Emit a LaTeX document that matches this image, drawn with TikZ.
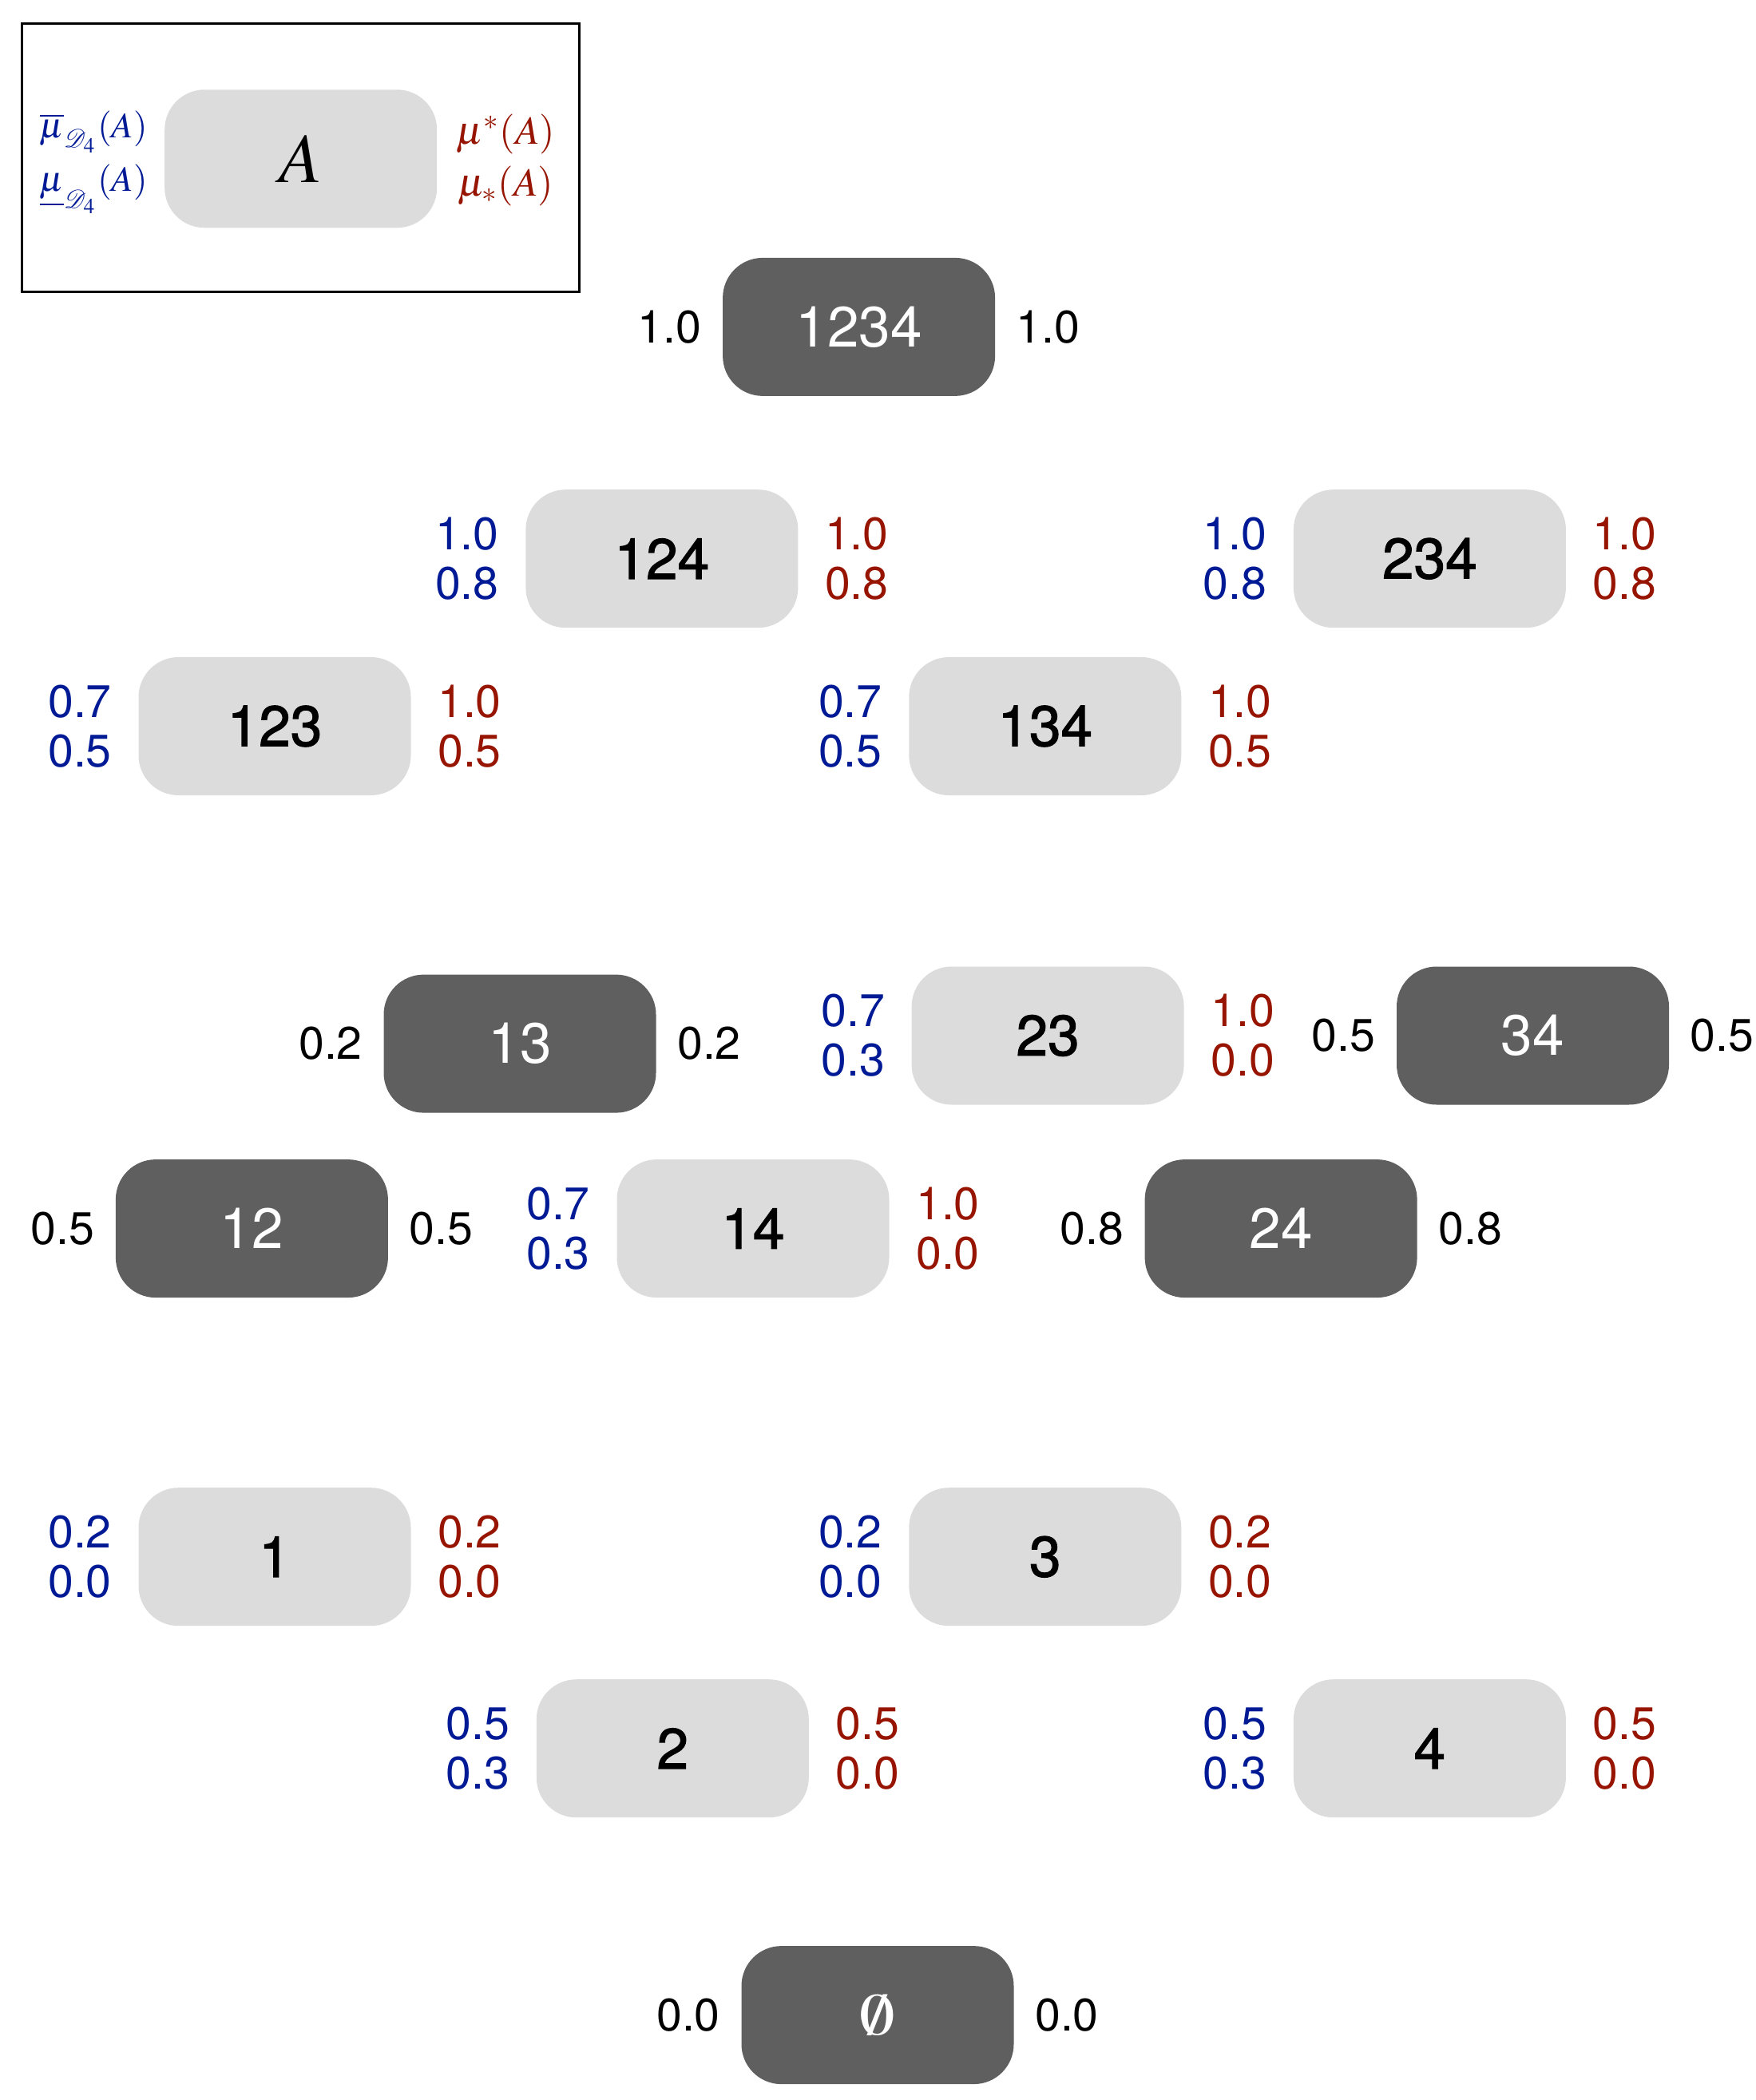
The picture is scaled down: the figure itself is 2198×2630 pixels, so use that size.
\RequirePackage{fix-cm}
\documentclass[tikz,border=0pt]{standalone}
\usepackage{mathptmx}
\usepackage{fontspec}
\setmainfont{TeX Gyre Heros}
\newfontfamily\heavyf[FakeBold=1.6]{TeX Gyre Heros}
\usepackage{mathrsfs}
\usepackage{graphicx}
\definecolor{lgray}{RGB}{220,220,220}
\definecolor{dgray}{RGB}{95,95,95}
\definecolor{bluec}{RGB}{0,26,150}
\definecolor{redc}{RGB}{150,20,0}
\tikzset{
  setbox/.style={rectangle, rounded corners=12.5pt, minimum width=85.25pt,
    minimum height=43.25pt, inner sep=0pt, font=\fontsize{17.8}{20}\selectfont},
  lightbox/.style={setbox, fill=lgray, text=black, font=\fontsize{17.8}{20}\heavyf},
  darkbox/.style={setbox, fill=dgray, text=white},
  val/.style={inner sep=0pt, font=\fontsize{14.3}{16}\selectfont},
  bluev/.style={val, text=bluec},
  redv/.style={val, text=redc},
  blackv/.style={val, text=black},
  legtext/.style={inner sep=0pt, anchor=base, font=\fontsize{12.5}{13}\selectfont},
}
\newcommand\LSet[8]{%
  \node[lightbox] (#1) at (#2,#3) {#4};
  \node[bluev] (#1-bu) at ([shift={(-244,-31)}]#1.center) {#5};
  \node[bluev] (#1-bl) at ([shift={(-244,31)}]#1.center) {#6};
  \node[redv] (#1-ru) at ([shift={(244,-31)}]#1.center) {#7};
  \node[redv] (#1-rl) at ([shift={(244,31)}]#1.center) {#8};
}
\newcommand\DSet[6]{%
  \node[darkbox] (#1) at (#2,#3) {#4};
  \node[blackv] (#1-l) at ([shift={(-237,0)}]#1.center) {#5};
  \node[blackv] (#1-r) at ([shift={(237,0)}]#1.center) {#6};
}
\begin{document}
\begin{tikzpicture}[x=0.25pt, y=-0.25pt]
\useasboundingbox (0,0) rectangle (2198,2630);
% legend
\node[draw, line width=0.75pt, minimum width=174.5pt, minimum height=84pt, inner sep=0pt] (legend) at (376,198) {};
\node[lightbox, font=\fontsize{22}{24}\selectfont] (legA) at (376.7,198.8) {$A$};
\node[legtext, text=bluec, font=\fontsize{11.2}{12}\selectfont] (legb1) at (117,173) {$\overline{\mu}_{\mathscr{D}_4}(A)$};
\node[legtext, text=bluec, font=\fontsize{11.2}{12}\selectfont] (legb2) at (117,240) {$\underline{\mu}_{\mathscr{D}_4}(A)$};
\node[legtext, text=redc] (legr1) at (633,181) {$\mu^*(A)$};
\node[legtext, text=redc] (legr2) at (633,246) {$\mu_*(A)$};
% lattice
\DSet{n1234}{1075.6}{409.4}{1234}{1.0}{1.0}
\LSet{n124}{828.9}{699.7}{124}{1.0}{0.8}{1.0}{0.8}
\LSet{n234}{1790.4}{699.7}{234}{1.0}{0.8}{1.0}{0.8}
\LSet{n123}{344.0}{909.5}{123}{0.7}{0.5}{1.0}{0.5}
\LSet{n134}{1308.8}{909.5}{134}{0.7}{0.5}{1.0}{0.5}
\DSet{n13}{651.0}{1307.1}{13}{0.2}{0.2}
\LSet{n23}{1312.1}{1297.0}{23}{0.7}{0.3}{1.0}{0.0}
\DSet{n34}{1919.5}{1297.0}{34}{0.5}{0.5}
\DSet{n12}{315.4}{1538.6}{12}{0.5}{0.5}
\LSet{n14}{943.0}{1538.6}{14}{0.7}{0.3}{1.0}{0.0}
\DSet{n24}{1604.1}{1538.6}{24}{0.8}{0.8}
\LSet{n1}{344.0}{1949.7}{1}{0.2}{0.0}{0.2}{0.0}
\LSet{n3}{1308.8}{1949.7}{3}{0.2}{0.0}{0.2}{0.0}
\LSet{n2}{842.3}{2189.7}{2}{0.5}{0.3}{0.5}{0.0}
\LSet{n4}{1790.4}{2189.7}{4}{0.5}{0.3}{0.5}{0.0}
\DSet{nempty}{1099.0}{2523.6}{\scalebox{1.25}[1.05]{$\emptyset$}}{0.0}{0.0}
\end{tikzpicture}
\end{document}
